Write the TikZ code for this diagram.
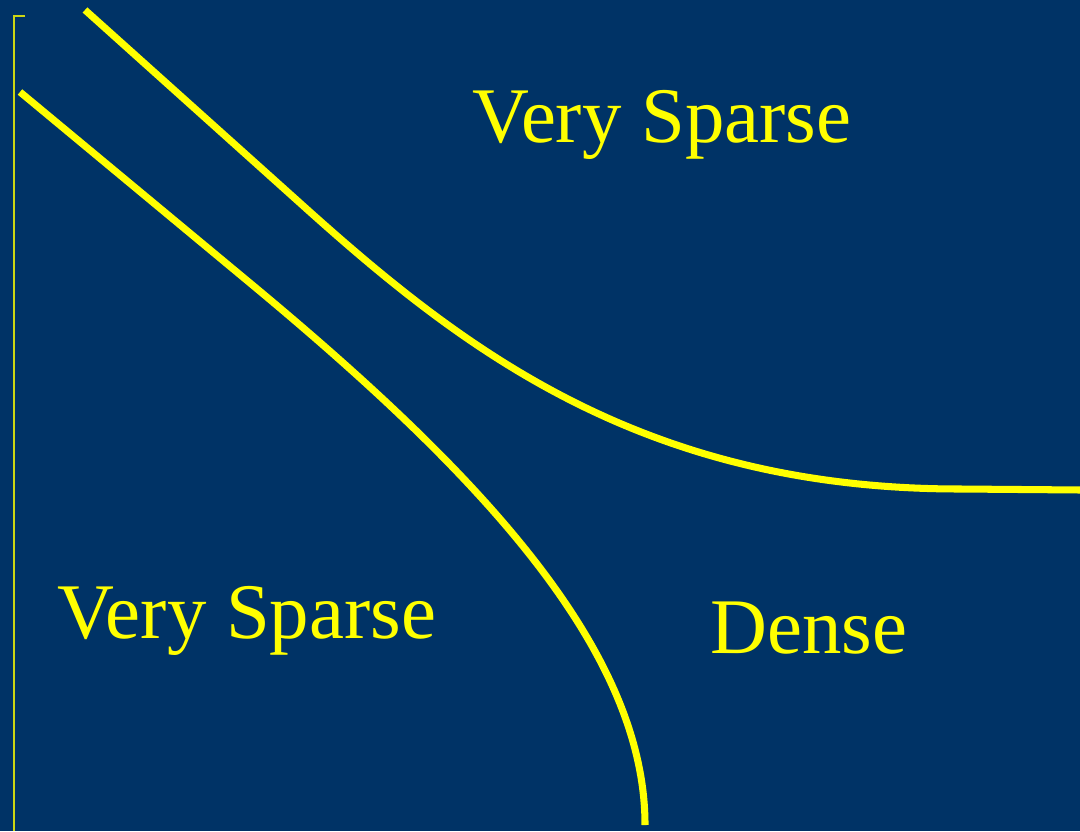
\documentclass[tikz,border=0pt]{standalone}
\usepackage{fontspec}
\setmainfont{Liberation Serif}
\usepackage{tikz}
\usetikzlibrary{positioning}
\definecolor{slidebg}{RGB}{0,51,102}
\definecolor{curveyellow}{RGB}{255,255,0}

\begin{document}
\begin{tikzpicture}[x=0.01cm, y=-0.01cm, every node/.style={font=\fontsize{22.4}{27}\selectfont, text=curveyellow},
  boundary/.style={draw=curveyellow, line width=2pt},
  axisline/.style={draw=curveyellow!80!slidebg, line width=0.6pt}]
\fill[slidebg] (0,0) rectangle (1080,831);
\useasboundingbox (0,0) rectangle (1080,831);
\draw[axisline] (25,16) -- (14,16) -- (14,831);
% upper boundary
\draw[boundary] (85,10) -- (300,203) .. controls (460,347) and (640,489) .. (960,489) -- (1080,490);
% lower boundary
\draw[boundary] (20,92) -- (250,283) .. controls (470,465.6) and (645,645) .. (645,825);
\node[anchor=base] (sparsetop) at (662,143) {Very Sparse};
\node[anchor=base] (sparseleft) at (247,638) {Very Sparse};
\node[anchor=base] (dense) at (809,653) {Dense};
\end{tikzpicture}
\end{document}
